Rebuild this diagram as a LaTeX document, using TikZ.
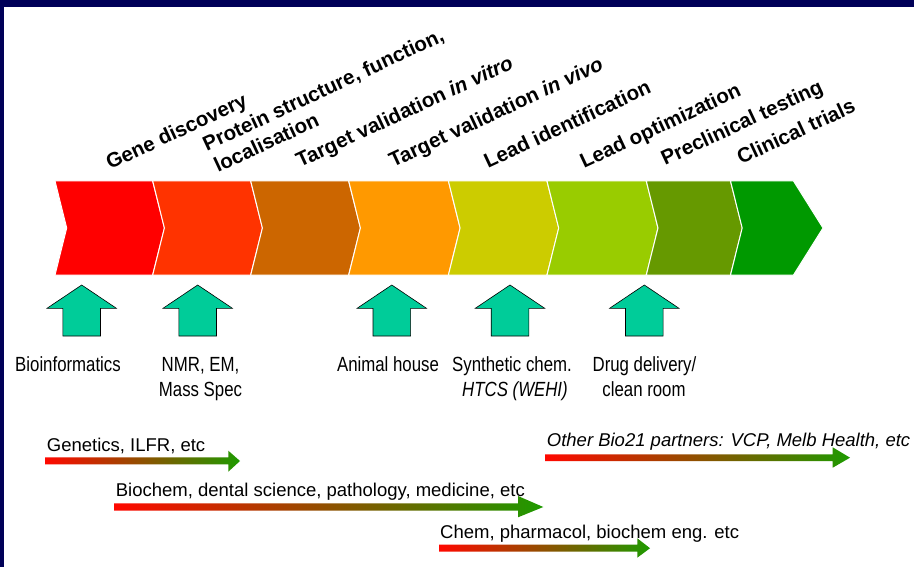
\documentclass[tikz,border=0pt]{standalone}
\usepackage{fontspec}
\setmainfont{Liberation Sans}
\newfontfamily\narrowsans[FakeStretch=0.82]{Liberation Sans}
\definecolor{framenavy}{RGB}{0,0,88}
\definecolor{chRed}{HTML}{FF0000}
\definecolor{chRust}{HTML}{FF3300}
\definecolor{chBrown}{HTML}{CC6600}
\definecolor{chOrange}{HTML}{FF9900}
\definecolor{chOlive}{HTML}{CCCC00}
\definecolor{chLime}{HTML}{99CC00}
\definecolor{chMoss}{HTML}{669900}
\definecolor{chGreen}{HTML}{009900}
\definecolor{toolgreen}{HTML}{00CC99}
\definecolor{spanred}{HTML}{FF0800}
\definecolor{spanbrown}{HTML}{B06200}
\definecolor{spangreen}{HTML}{1E9A00}
\tikzset{
  stage/.style={anchor=base west, rotate=25, inner sep=0pt,
    font=\fontsize{20.5}{24}\selectfont\bfseries},
  tool/.style={anchor=base, inner sep=0pt,
    font=\narrowsans\fontsize{20.5}{25}\selectfont},
  field/.style={anchor=base west, inner sep=0pt,
    font=\fontsize{18.5}{22}\selectfont},
  uparrow/.style={fill=toolgreen, draw=black, line width=0.6pt},
  span/.style={left color=spanred, middle color=spanbrown, right color=spangreen}
}
\begin{document}
\begin{tikzpicture}[x=1pt, y=-1pt]
\useasboundingbox (0,0) rectangle (914,567);
\fill[framenavy] (0,0) rectangle (914,567);
\fill[white] (4,6.7) rectangle (914,567);

\foreach \xa/\xb/\col in {55/152.7/chRed, 152.7/250.7/chRust, 250.7/348.7/chBrown,
    348.7/448.4/chOrange, 448.4/547/chOlive, 547/646.3/chLime, 646.3/730.5/chMoss}
  \filldraw[fill=\col, draw=white, line width=1pt]
    (\xa,181) -- (\xb,181) -- (\xb+11.7,228) -- (\xb,275) -- (\xa,275) -- (\xa+11.7,228) -- cycle;
\filldraw[fill=chGreen, draw=white, line width=1pt]
  (730.5,181) -- (793.5,181) -- (823,228) -- (793.5,275) -- (730.5,275) -- (742.2,228) -- cycle;

\node (gene) [stage] at (110,170) {Gene discovery};
\node (protein) [stage] at (206.7,151.7) {Protein structure, function,};
\node (local) [stage] at (218,173) {localisation};
\node (vitro) [stage] at (300,168) {Target validation \textit{in vitro}};
\node (vivo) [stage] at (393,168) {Target validation \textit{in vivo}};
\node (leadid) [stage] at (488,169) {Lead identification};
\node (leadopt) [stage] at (584,169) {Lead optimization};
\node (preclin) [stage] at (665,166) {Preclinical testing};
\node (clinic) [stage] at (741,165) {Clinical trials};

\foreach \x in {81.7, 197.7, 391.8, 510, 644.3}
  \draw[uparrow] (\x,285) -- (\x+34.7,308.3) -- (\x+18.8,308.3) -- (\x+18.8,336)
    -- (\x-18.8,336) -- (\x-18.8,308.3) -- (\x-34.7,308.3) -- cycle;

\node (bioinf) [tool] at (68,371) {Bioinformatics};
\node (nmr) [tool] at (200.5,371) {NMR, EM,};
\node (mass) [tool] at (200.5,396.5) {Mass Spec};
\node (animal) [tool] at (388,371) {Animal house};
\node (synth) [tool] at (512,371) {Synthetic chem.};
\node (htcs) [tool] at (515,396.5) {\itshape HTCS (WEHI)};
\node (drug) [tool] at (644.5,371) {Drug delivery/};
\node (clean) [tool] at (644,396.5) {clean room};

\shade[span] (45,457.3) -- (228.3,457.3) -- (228.3,450.7) -- (240,461) -- (228.3,471.7)
  -- (228.3,464.3) -- (45,464.3) -- cycle;
\shade[span] (114,503.3) -- (518,503.3) -- (518,496) -- (543.3,507) -- (518,517.3)
  -- (518,510.7) -- (114,510.7) -- cycle;
\shade[span] (439,544.7) -- (637.3,544.7) -- (637.3,538.3) -- (650,548.2) -- (637.3,557.7)
  -- (637.3,551.7) -- (439,551.7) -- cycle;
\shade[span] (545,454.3) -- (832.7,454.3) -- (832.7,447.3) -- (850,457.7) -- (832.7,467.7)
  -- (832.7,461) -- (545,461) -- cycle;

\node (genetics) [field] at (46.7,451.7) {Genetics, ILFR, etc};
\node (biochem) [field] at (115.7,496.7) {Biochem, dental science, pathology, medicine, etc};
\node (chem) [field] at (440,538.3) {Chem, pharmacol, biochem eng. etc};
\node (partners) [field] at (546.7,446.7) {\itshape Other Bio21 partners: VCP, Melb Health, etc};
\end{tikzpicture}
\end{document}
